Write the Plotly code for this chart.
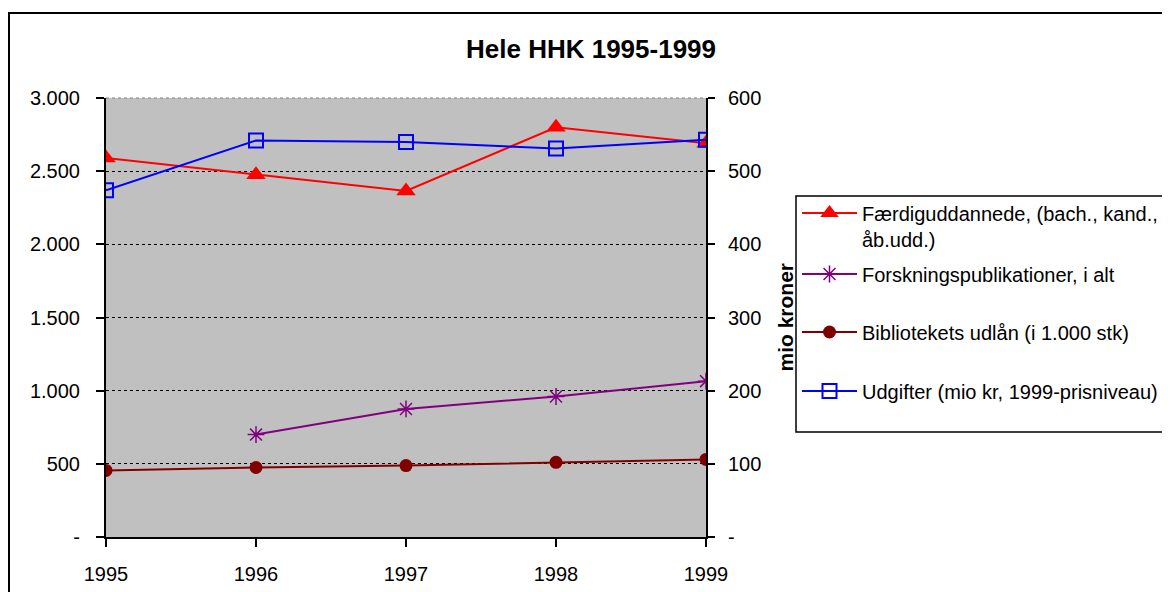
import plotly.graph_objects as go

years = [1995, 1996, 1997, 1998, 1999]
faerdig = [2590, 2475, 2365, 2800, 2690]
forskning = [None, 700, 875, 960, 1065]
bibliotek = [455, 475, 488, 510, 530]
udgifter = [474, 542, 540, 531, 543]

left_ticks = [0, 500, 1000, 1500, 2000, 2500, 3000]
left_labels = ["-", "500", "1.000", "1.500", "2.000", "2.500", "3.000"]
right_ticks = [0, 100, 200, 300, 400, 500, 600]
right_labels = ["-", "100", "200", "300", "400", "500", "600"]

names = ["Færdiguddannede, (bach., kand.,<br>åb.udd.)",
         "Forskningspublikationer, i alt",
         "Bibliotekets udlån (i 1.000 stk)",
         "Udgifter (mio kr, 1999-prisniveau)"]

FONT = "Liberation Sans, Arial, sans-serif"

# page offset (body margin) compensation
OFF = 8
W, H = 1170, 592
L, R, T, B = 106 - OFF, 706 - OFF, 98 - OFF, 537 - OFF
pw, ph = R - L, B - T


def px(xr):
    return (xr - OFF - L) / pw


def py(yr):
    return (B - (yr - OFF)) / ph


fig = go.Figure()
fig.add_trace(go.Scatter(x=years, y=faerdig, name=names[0], legend="legend",
                         mode="lines+markers", line=dict(color="#FF0000", width=2),
                         marker=dict(symbol="triangle-up", size=17, color="#FF0000")))
fig.add_trace(go.Scatter(x=years, y=forskning, name=names[1], legend="legend2",
                         mode="lines+markers", line=dict(color="#800080", width=2),
                         marker=dict(symbol="asterisk-open", size=14, color="#800080",
                                     line=dict(color="#800080", width=1.5))))
fig.add_trace(go.Scatter(x=years, y=bibliotek, name=names[2], legend="legend3",
                         mode="lines+markers", line=dict(color="#800000", width=2),
                         marker=dict(symbol="circle", size=13, color="#800000")))
fig.add_trace(go.Scatter(x=years, y=udgifter, name=names[3], legend="legend4", yaxis="y2",
                         mode="lines+markers", line=dict(color="#0000FF", width=2),
                         marker=dict(symbol="square-open", size=14, color="#0000FF",
                                     line=dict(color="#0000FF", width=2))))

leg_common = dict(x=px(797), xanchor="left", bgcolor="rgba(0,0,0,0)", borderwidth=0,
                  font=dict(family=FONT, size=20, color="black"), itemwidth=55,
                  valign="top")

fig.update_layout(
    width=W, height=H,
    margin=dict(l=L, r=W - R, t=T, b=H - B, autoexpand=False),
    paper_bgcolor="white",
    plot_bgcolor="#C0C0C0",
    font=dict(family=FONT, size=20, color="black"),
    showlegend=True,
    legend=dict(y=py(226), yanchor="middle", **leg_common),
    legend2=dict(y=py(274), yanchor="middle", **leg_common),
    legend3=dict(y=py(332), yanchor="middle", **leg_common),
    legend4=dict(y=py(391), yanchor="middle", **leg_common),
    xaxis=dict(range=[1995, 1999], tickvals=years, ticktext=[str(y) for y in years],
               showgrid=False, zeroline=False, showline=True, linecolor="black", linewidth=2,
               ticks="outside", ticklen=8, tickcolor="black", tickwidth=1.5,
               ticklabelstandoff=10, tickfont=dict(size=20)),
    yaxis=dict(range=[0, 3000], tickvals=left_ticks, ticktext=left_labels,
               showgrid=True, gridcolor="black", griddash="dot", gridwidth=1.2,
               zeroline=False, showline=True, linecolor="black", linewidth=2,
               ticks="outside", ticklen=8, tickcolor="black", tickwidth=1.5,
               ticklabelstandoff=12, tickfont=dict(size=20)),
    yaxis2=dict(range=[0, 600], tickvals=right_ticks, ticktext=right_labels,
                overlaying="y", side="right", showgrid=False, zeroline=False,
                showline=True, linecolor="black", linewidth=2,
                ticks="outside", ticklen=7, tickcolor="black", tickwidth=1.5,
                ticklabelstandoff=9, tickfont=dict(size=20)),
    shapes=[
        dict(type="rect", xref="paper", yref="paper",
             x0=px(9), x1=px(1400), y0=py(800), y1=py(13),
             line=dict(color="black", width=2), fillcolor="rgba(0,0,0,0)", layer="above"),
        dict(type="rect", xref="paper", yref="paper",
             x0=px(796), x1=px(1400), y0=py(432), y1=py(196),
             line=dict(color="black", width=1.5), fillcolor="rgba(0,0,0,0)", layer="above"),
        dict(type="line", xref="paper", yref="paper", x0=0, x1=1, y0=1, y1=1,
             line=dict(color="#808080", width=1, dash="dot"), layer="below"),
    ],
    annotations=[
        dict(text="<b>Hele HHK 1995-1999</b>", xref="paper", yref="paper",
             x=px(591), y=py(49), xanchor="center", yanchor="middle", showarrow=False,
             font=dict(family=FONT, size=26, color="black")),
        dict(text="<b>mio kroner</b>", xref="paper", yref="paper", textangle=-90,
             x=px(798), y=py(317), xanchor="right", yanchor="middle", showarrow=False,
             font=dict(family=FONT, size=21, color="black")),
    ],
)

fig.write_html("out.html")
